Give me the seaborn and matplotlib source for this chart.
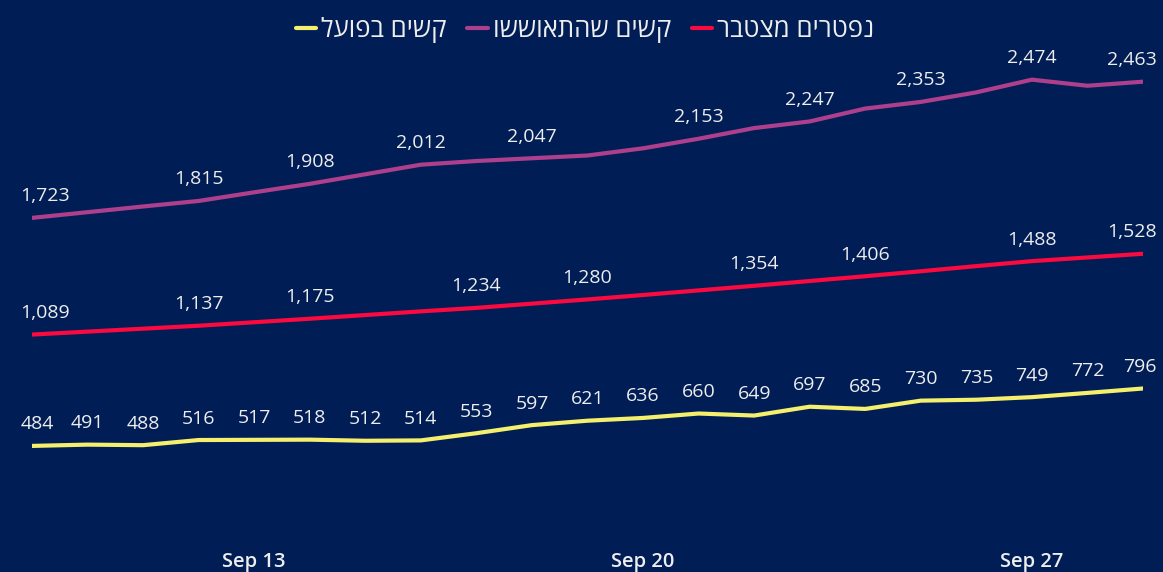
import pandas as pd
import matplotlib.pyplot as plt
import matplotlib.dates as mdates
import seaborn as sns

dates = pd.date_range("2020-09-09", "2020-09-29", freq="D")

# קשים בפועל
serious = [484, 491, 488, 516, 517, 518, 512, 514, 553, 597, 621,
           636, 660, 649, 697, 685, 730, 735, 749, 772, 796]
# קשים שהתאוששו
recovered = [1723, 1754, 1785, 1815, 1862, 1908, 1960, 2012, 2032, 2047, 2062,
             2101, 2153, 2211, 2247, 2317, 2353, 2405, 2474, 2441, 2463]
# נפטרים מצטבר
deaths = [1089, 1105, 1121, 1137, 1156, 1175, 1195, 1215, 1234, 1257, 1280,
          1304, 1329, 1354, 1380, 1406, 1433, 1461, 1488, 1508, 1528]

series_names = ["קשים בפועל", "קשים שהתאוששו", "נפטרים מצטבר"]
series_colors = ["#F4EF6C", "#AE3F8D", "#FA0A3F"]

recovered_labeled = [0, 3, 5, 7, 9, 12, 14, 16, 18, 20]
deaths_labeled = [0, 3, 5, 8, 10, 13, 15, 18, 20]
serious_labeled = list(range(len(serious)))

bg = "#001D55"
txt = "#EEEEEE"

df = pd.concat([
    pd.DataFrame({"date": dates, "value": serious, "series": series_names[0]}),
    pd.DataFrame({"date": dates, "value": recovered, "series": series_names[1]}),
    pd.DataFrame({"date": dates, "value": deaths, "series": series_names[2]}),
])

sns.set_style("white", {"axes.facecolor": bg, "figure.facecolor": bg})
plt.rcParams["font.family"] = ["Open Sans", "DejaVu Sans"]

fig = plt.figure(figsize=(11.63, 5.72), dpi=100)
ax = fig.add_axes([0.0275, 0.0647, 0.9553, 0.843])

sns.lineplot(
    data=df, x="date", y="value", hue="series",
    hue_order=series_names,
    palette=dict(zip(series_names, series_colors)),
    linewidth=3, ax=ax, legend=True,
)
for line in ax.get_lines():
    line.set_solid_capstyle("round")
    line.set_solid_joinstyle("round")

ax.set_xlim(dates[0], dates[-1])
ax.set_ylim(0, 2620)

last = len(dates) - 1
for values, idxs in [(serious, serious_labeled), (recovered, recovered_labeled),
                     (deaths, deaths_labeled)]:
    for i in idxs:
        if i == 0:
            dx, ha = -8.5, "left"
        elif i == last:
            dx, ha = 10, "right"
        else:
            dx, ha = 0, "center"
        ax.annotate(f"{values[i]:,}", (dates[i], values[i]),
                    xytext=(dx, 9), textcoords="offset points",
                    ha=ha, va="bottom", color=txt, fontsize=14,
                    annotation_clip=False)

ax.set_xticks(pd.to_datetime(["2020-09-13", "2020-09-20", "2020-09-27"]))
ax.xaxis.set_major_formatter(mdates.DateFormatter("%b %d"))
ax.tick_params(axis="x", length=0, pad=12, colors=txt, labelsize=14.5)
for lbl in ax.get_xticklabels():
    lbl.set_fontweight("semibold")
ax.set_yticks([])
ax.set_xlabel("")
ax.set_ylabel("")
for s in ax.spines.values():
    s.set_visible(False)

handles, labels = ax.get_legend_handles_labels()
ax.legend(handles, [l[::-1] for l in labels],
          loc="center", bbox_to_anchor=(0.503, 0.947),
          bbox_transform=fig.transFigure, ncol=3, frameon=False,
          fontsize=18.5, labelcolor=txt, handlelength=0.8,
          handletextpad=0.2, columnspacing=0.8)

fig.savefig("out.png", dpi=100, facecolor=bg)
